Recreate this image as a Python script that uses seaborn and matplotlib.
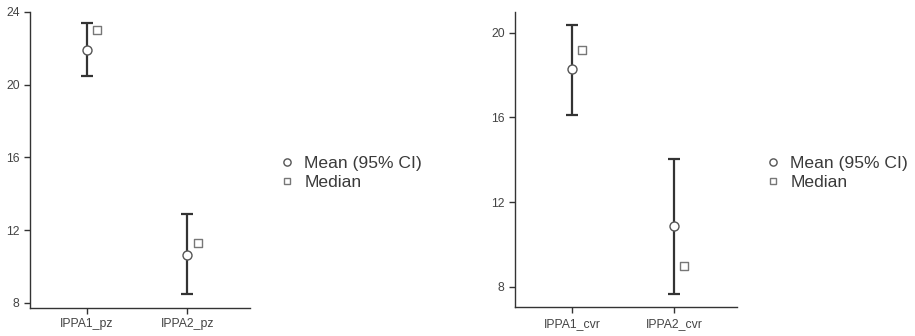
import numpy as np
import pandas as pd
import matplotlib
matplotlib.use("Agg")
import matplotlib.pyplot as plt
from matplotlib.lines import Line2D
import seaborn as sns

# values
pz_labels = ["IPPA1_pz", "IPPA2_pz"]
pz_mean = [21.93, 10.65]
pz_lo = [20.48, 8.49]
pz_hi = [23.39, 12.90]
pz_median = [23.02, 11.31]

cvr_labels = ["IPPA1_cvr", "IPPA2_cvr"]
cvr_mean = [18.27, 10.85]
cvr_lo = [16.14, 7.66]
cvr_hi = [20.39, 14.05]
cvr_median = [19.18, 8.98]

sns.set_style("ticks")
plt.rcParams["font.family"] = ["Liberation Sans", "DejaVu Sans"]

fig = plt.figure(figsize=(9.15, 3.36), dpi=100)
ax1 = fig.add_axes([30 / 915, 28 / 336, 220 / 915, 296 / 336])
ax2 = fig.add_axes([515 / 915, 28.7 / 336, 222 / 915, 295.6 / 336])

ink = "#333333"


def panel(ax, labels, mean, lo, hi, median, ylim, yticks):
    x = np.arange(len(labels))
    df = pd.DataFrame({"x": x, "mean": mean, "median": median})
    mean = np.array(mean)
    err = [mean - np.array(lo), np.array(hi) - mean]
    ax.errorbar(x, mean, yerr=err, fmt="none", ecolor=ink, elinewidth=1.6,
                capsize=4.3, capthick=1.6, zorder=2)
    sns.scatterplot(data=df, x="x", y="mean", ax=ax, marker="o", s=42,
                    facecolor="white", edgecolor="#555555", linewidth=1.0,
                    zorder=3)
    df["xm"] = df["x"] + 0.1
    sns.scatterplot(data=df, x="xm", y="median", ax=ax, marker="s", s=30,
                    facecolor="white", edgecolor="#777777", linewidth=1.0,
                    zorder=3)
    ax.set_xlim(-0.56, 1.62)
    ax.set_ylim(*ylim)
    ax.set_yticks(yticks)
    ax.set_xticks(x)
    ax.set_xticklabels(labels)
    ax.set_xlabel("")
    ax.set_ylabel("")
    for s in ["top", "right"]:
        ax.spines[s].set_visible(False)
    for s in ["left", "bottom"]:
        ax.spines[s].set_color(ink)
        ax.spines[s].set_linewidth(1.0)
    ax.tick_params(axis="both", colors=ink, labelcolor="#444444",
                   labelsize=8.8, length=4, width=1.0)


panel(ax1, pz_labels, pz_mean, pz_lo, pz_hi, pz_median, (7.72, 24.0), [8, 12, 16, 20, 24])
panel(ax2, cvr_labels, cvr_mean, cvr_lo, cvr_hi, cvr_median, (7.03, 21.0), [8, 12, 16, 20])

handles = [
    Line2D([], [], linestyle="none", marker="o", markersize=5.2,
           markerfacecolor="white", markeredgecolor="#555555", label="Mean (95% CI)"),
    Line2D([], [], linestyle="none", marker="s", markersize=4.6,
           markerfacecolor="white", markeredgecolor="#777777", label="Median"),
]
for xpos in [280 / 915, 766 / 915]:
    fig.legend(handles=handles, loc="center left", bbox_to_anchor=(xpos, 1 - 173 / 336),
               frameon=False, fontsize=12.6, handlelength=0.8, handletextpad=0.6,
               labelspacing=0.22, borderaxespad=0, borderpad=0, labelcolor="#3a3a3a")

fig.savefig("out.png", dpi=100)
